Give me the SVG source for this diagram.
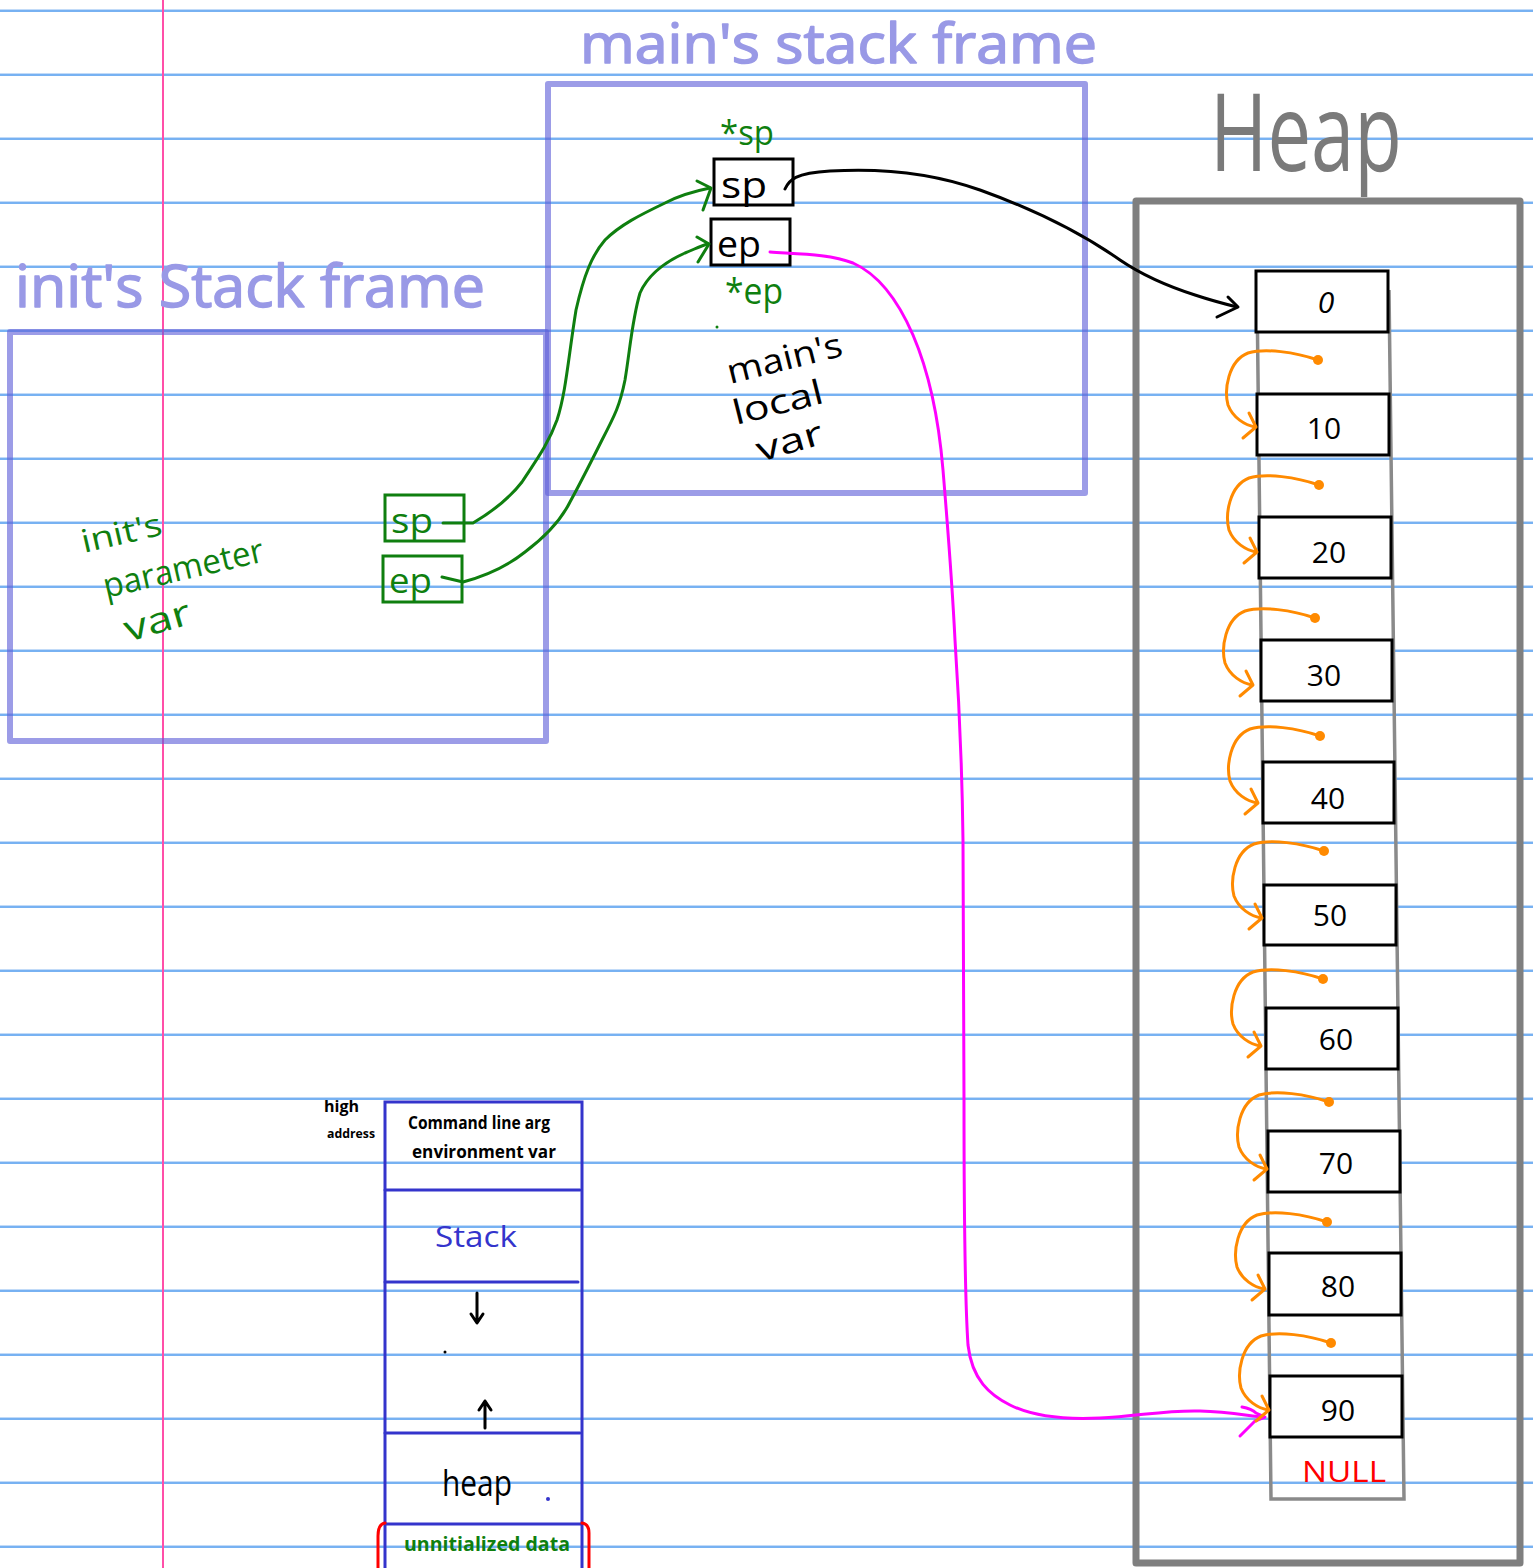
<svg xmlns="http://www.w3.org/2000/svg" xmlns:xlink="http://www.w3.org/1999/xlink" width="1533" height="1568" viewBox="0 0 1533 1568">
  <style>
    .rule { stroke: #4b98ee; stroke-width: 1.4; }
    .rule-hi { stroke: #bcd8f8; stroke-width: 1; }
    .frame { fill: none; stroke: #5f5fd8; stroke-opacity: 0.62; stroke-width: 6; stroke-linejoin: round; stroke-linecap: round; }
    .title { font-family: "Open Sans", "Liberation Sans", sans-serif; fill: #9999e6; stroke: #9999e6; stroke-width: 1.5; stroke-linejoin: round; }
    .hand { font-family: "Open Sans", "Liberation Sans", sans-serif; }
    .cell { fill: #ffffff; stroke: #000000; stroke-width: 3; }
    .val { font-family: "Open Sans", "Liberation Sans", sans-serif; font-size: 30px; fill: #000; text-anchor: middle; }
    .green-box { fill: none; stroke: #0f7f0f; stroke-width: 3; }
    .green-line { fill: none; stroke: #0f7f0f; stroke-width: 3; stroke-linecap: round; stroke-linejoin: round; }
    .black-line { fill: none; stroke: #000; stroke-width: 3; stroke-linecap: round; stroke-linejoin: round; }
    .pink-line { fill: none; stroke: #ff00ff; stroke-width: 3; stroke-linecap: round; stroke-linejoin: round; }
    .orange-line { fill: none; stroke: #ff8a00; stroke-width: 3; stroke-linecap: round; stroke-linejoin: round; }
    .mem { fill: none; stroke: #3434cc; stroke-width: 3; stroke-linecap: round; }
  </style>
  <defs>
    <!-- orange "next" link: dot at origin, hooks round to the left side of the next cell -->
    <g id="link">
      <circle cx="0" cy="0" r="5" fill="#ff8a00"/>
      <path class="orange-line" d="M0,0 C-23,-8 -53,-12 -70,-7 C-90,1 -94,30 -90,45 C-85,58 -73,65 -63,67"/>
      <path class="orange-line" d="M-69,53 L-62,67 L-75,78"/>
    </g>
  </defs>

  <rect width="1533" height="1568" fill="#ffffff"/>

  <!-- ruled paper -->
  <g id="paper">
    <g class="rule-hi">
      <line x1="0" y1="9.6" x2="1533" y2="9.6"/><line x1="0" y1="73.6" x2="1533" y2="73.6"/>
      <line x1="0" y1="137.6" x2="1533" y2="137.6"/><line x1="0" y1="201.6" x2="1533" y2="201.6"/>
      <line x1="0" y1="265.6" x2="1533" y2="265.6"/><line x1="0" y1="329.6" x2="1533" y2="329.6"/>
      <line x1="0" y1="393.6" x2="1533" y2="393.6"/><line x1="0" y1="457.6" x2="1533" y2="457.6"/>
      <line x1="0" y1="521.6" x2="1533" y2="521.6"/><line x1="0" y1="585.6" x2="1533" y2="585.6"/>
      <line x1="0" y1="649.6" x2="1533" y2="649.6"/><line x1="0" y1="713.6" x2="1533" y2="713.6"/>
      <line x1="0" y1="777.6" x2="1533" y2="777.6"/><line x1="0" y1="841.6" x2="1533" y2="841.6"/>
      <line x1="0" y1="905.6" x2="1533" y2="905.6"/><line x1="0" y1="969.6" x2="1533" y2="969.6"/>
      <line x1="0" y1="1033.6" x2="1533" y2="1033.6"/><line x1="0" y1="1097.6" x2="1533" y2="1097.6"/>
      <line x1="0" y1="1161.6" x2="1533" y2="1161.6"/><line x1="0" y1="1225.6" x2="1533" y2="1225.6"/>
      <line x1="0" y1="1289.6" x2="1533" y2="1289.6"/><line x1="0" y1="1353.6" x2="1533" y2="1353.6"/>
      <line x1="0" y1="1417.6" x2="1533" y2="1417.6"/><line x1="0" y1="1481.6" x2="1533" y2="1481.6"/>
      <line x1="0" y1="1545.6" x2="1533" y2="1545.6"/>
    </g>
    <g class="rule">
      <line x1="0" y1="11" x2="1533" y2="11"/><line x1="0" y1="75" x2="1533" y2="75"/>
      <line x1="0" y1="139" x2="1533" y2="139"/><line x1="0" y1="203" x2="1533" y2="203"/>
      <line x1="0" y1="267" x2="1533" y2="267"/><line x1="0" y1="331" x2="1533" y2="331"/>
      <line x1="0" y1="395" x2="1533" y2="395"/><line x1="0" y1="459" x2="1533" y2="459"/>
      <line x1="0" y1="523" x2="1533" y2="523"/><line x1="0" y1="587" x2="1533" y2="587"/>
      <line x1="0" y1="651" x2="1533" y2="651"/><line x1="0" y1="715" x2="1533" y2="715"/>
      <line x1="0" y1="779" x2="1533" y2="779"/><line x1="0" y1="843" x2="1533" y2="843"/>
      <line x1="0" y1="907" x2="1533" y2="907"/><line x1="0" y1="971" x2="1533" y2="971"/>
      <line x1="0" y1="1035" x2="1533" y2="1035"/><line x1="0" y1="1099" x2="1533" y2="1099"/>
      <line x1="0" y1="1163" x2="1533" y2="1163"/><line x1="0" y1="1227" x2="1533" y2="1227"/>
      <line x1="0" y1="1291" x2="1533" y2="1291"/><line x1="0" y1="1355" x2="1533" y2="1355"/>
      <line x1="0" y1="1419" x2="1533" y2="1419"/><line x1="0" y1="1483" x2="1533" y2="1483"/>
      <line x1="0" y1="1547" x2="1533" y2="1547"/>
    </g>
    <line x1="163" y1="0" x2="163" y2="1568" stroke="#ff4fa8" stroke-width="2"/>
  </g>

  <!-- main's stack frame -->
  <g id="main-frame">
    <text class="title" x="580" y="63" font-size="54" textLength="517" lengthAdjust="spacingAndGlyphs">main's stack frame</text>
    <rect class="frame" x="548" y="84" width="537" height="409"/>
    <text class="hand" x="720" y="145" font-size="34" fill="#0f7f0f" textLength="54" lengthAdjust="spacingAndGlyphs">*sp</text>
    <text class="hand" x="725" y="304" font-size="36" fill="#0f7f0f" textLength="58" lengthAdjust="spacingAndGlyphs">*ep</text>
    <circle cx="717" cy="327" r="1.5" fill="#0f7f0f"/>
    <text class="hand" font-size="34" fill="#000" transform="translate(730,384) rotate(-14)" textLength="118" lengthAdjust="spacingAndGlyphs">main's</text>
    <text class="hand" font-size="34" fill="#000" transform="translate(736,425) rotate(-14)" textLength="92" lengthAdjust="spacingAndGlyphs">local</text>
    <text class="hand" font-size="34" fill="#000" transform="translate(760,462) rotate(-16)" textLength="68" lengthAdjust="spacingAndGlyphs">var</text>
  </g>

  <g id="main-sp">
    <rect class="cell" x="714" y="159" width="79" height="46"/>
    <text class="hand" x="721" y="198" font-size="36" fill="#000" textLength="46" lengthAdjust="spacingAndGlyphs">sp</text>
  </g>
  <g id="main-ep">
    <rect class="cell" x="711" y="219" width="79" height="46"/>
    <text class="hand" x="717" y="257" font-size="36" fill="#000" textLength="44" lengthAdjust="spacingAndGlyphs">ep</text>
  </g>

  <!-- init's stack frame -->
  <g id="init-frame">
    <text class="title" x="15" y="307" font-size="58" textLength="470" lengthAdjust="spacingAndGlyphs">init's Stack frame</text>
    <rect class="frame" x="10" y="332" width="536" height="409"/>
    <text class="hand" font-size="32" fill="#0f7f0f" transform="translate(84,553) rotate(-13)" textLength="82" lengthAdjust="spacingAndGlyphs">init's</text>
    <text class="hand" font-size="34" fill="#0f7f0f" transform="translate(106,598) rotate(-13)" textLength="164" lengthAdjust="spacingAndGlyphs">parameter</text>
    <text class="hand" font-size="36" fill="#0f7f0f" transform="translate(128,642) rotate(-16)" textLength="68" lengthAdjust="spacingAndGlyphs">var</text>
  </g>

  <g id="init-sp">
    <rect class="green-box" x="385" y="495" width="79" height="46"/>
    <text class="hand" x="391" y="533" font-size="34" fill="#0f7f0f" textLength="42" lengthAdjust="spacingAndGlyphs">sp</text>
  </g>
  <g id="init-ep">
    <rect class="green-box" x="383" y="556" width="79" height="46"/>
    <text class="hand" x="389" y="593" font-size="34" fill="#0f7f0f" textLength="43" lengthAdjust="spacingAndGlyphs">ep</text>
  </g>

  <!-- heap -->
  <g id="heap">
    <text x="1210" y="171" font-family="Open Sans, Liberation Sans, sans-serif" font-size="108" fill="#7a7a7a" textLength="192" lengthAdjust="spacingAndGlyphs">Heap</text>
    <rect x="1136" y="201" width="384" height="1362" fill="none" stroke="#7f7f7f" stroke-width="7" stroke-linejoin="round"/>
    <path d="M1257,290 L1271,1499 L1404,1499 L1389,290" fill="none" stroke="#8a8a8a" stroke-width="3.5"/>
  </g>

  <g id="cell-0"><rect class="cell" x="1256" y="271" width="132" height="61"/><text class="val" x="1326" y="313" font-style="italic">0</text></g>
  <g id="cell-10"><rect class="cell" x="1257" y="394" width="132" height="61"/><text class="val" x="1324" y="439">10</text></g>
  <g id="cell-20"><rect class="cell" x="1259" y="517" width="132" height="61"/><text class="val" x="1329" y="563">20</text></g>
  <g id="cell-30"><rect class="cell" x="1261" y="640" width="131" height="61"/><text class="val" x="1324" y="686">30</text></g>
  <g id="cell-40"><rect class="cell" x="1263" y="762" width="131" height="61"/><text class="val" x="1328" y="809">40</text></g>
  <g id="cell-50"><rect class="cell" x="1264" y="885" width="132" height="60"/><text class="val" x="1330" y="926">50</text></g>
  <g id="cell-60"><rect class="cell" x="1266" y="1008" width="132" height="61"/><text class="val" x="1336" y="1050">60</text></g>
  <g id="cell-70"><rect class="cell" x="1268" y="1131" width="132" height="61"/><text class="val" x="1336" y="1174">70</text></g>
  <g id="cell-80"><rect class="cell" x="1269" y="1253" width="132" height="62"/><text class="val" x="1338" y="1297" font-size="34">80</text></g>
  <g id="cell-90"><rect class="cell" x="1270" y="1376" width="132" height="61"/><text class="val" x="1338" y="1421" font-size="36">90</text></g>
  <g id="null-label">
    <text x="1302" y="1482" font-family="Open Sans, Liberation Sans, sans-serif" font-size="30" fill="#ff0000" textLength="84" lengthAdjust="spacingAndGlyphs">NULL</text>
  </g>

  <!-- memory layout -->
  <g id="memory-layout">
    <path class="mem" d="M385,1568 L385,1102 L582,1102 L582,1568"/>
    <line class="mem" x1="385" y1="1190" x2="580" y2="1190"/>
    <line class="mem" x1="385" y1="1282" x2="578" y2="1282"/>
    <line class="mem" x1="385" y1="1433" x2="580" y2="1433"/>
    <line class="mem" x1="385" y1="1524" x2="582" y2="1524"/>
    <path d="M385,1523 Q378,1524 378,1536 L378,1570 M582,1523 Q589,1524 589,1533 L589,1570" fill="none" stroke="#ff0000" stroke-width="3" stroke-linecap="round"/>
    <text class="hand" x="324" y="1112" font-size="16" font-weight="bold" fill="#000" textLength="35" lengthAdjust="spacingAndGlyphs">high</text>
    <text class="hand" x="327" y="1138" font-size="13" font-weight="bold" fill="#000" textLength="48" lengthAdjust="spacingAndGlyphs">address</text>
    <text class="hand" x="408" y="1129" font-size="18" font-weight="bold" fill="#000" textLength="142" lengthAdjust="spacingAndGlyphs">Command line arg</text>
    <text class="hand" x="412" y="1158" font-size="18" font-weight="bold" fill="#000" textLength="144" lengthAdjust="spacingAndGlyphs">environment var</text>
    <text class="hand" x="435" y="1247" font-size="30" fill="#3434cc" textLength="82" lengthAdjust="spacingAndGlyphs">Stack</text>
    <path class="black-line" d="M477,1293 L477,1322 M471,1314 L477,1323 L483,1314"/>
    <circle cx="445" cy="1352" r="1.5" fill="#000"/>
    <path class="black-line" d="M485,1428 L485,1401 M479,1410 L485,1401 L491,1410"/>
    <text class="hand" x="442" y="1496" font-size="36" fill="#000" textLength="70" lengthAdjust="spacingAndGlyphs">heap</text>
    <circle cx="548" cy="1499" r="2" fill="#3434cc"/>
    <text class="hand" x="404" y="1551" font-size="19" font-weight="bold" fill="#0f7f0f" textLength="166" lengthAdjust="spacingAndGlyphs">unnitialized data</text>
  </g>

  <!-- connectors -->
  <g id="connectors">
    <!-- init sp -> main sp -->
    <path class="green-line" d="M443,523 L473,523 C495,510 512,495 522,482 C535,462 548,445 557,420 C566,392 568,360 576,310 C584,275 592,255 605,240 C620,225 640,215 665,203 C680,195 695,191 710,188"/>
    <path class="green-line" d="M697,181 L711,188 L703,210"/>
    <!-- init ep -> main ep -->
    <path class="green-line" d="M442,577 L463,582 C485,576 505,568 525,552 C545,537 560,522 570,502 C582,480 592,460 602,440 C615,415 620,405 625,380 C630,350 632,320 640,293 C648,275 665,262 685,253 C695,249 700,246 708,244"/>
    <path class="green-line" d="M697,237 L709,244 L698,262"/>
    <!-- main sp -> heap[0] -->
    <path class="black-line" d="M785,189 C789,180 795,173 830,171 C880,168 930,172 980,190 C1030,208 1080,232 1120,260 C1145,277 1170,287 1195,295 C1210,300 1225,304 1237,307"/>
    <path class="black-line" d="M1228,297 L1238,307 L1217,317"/>
    <!-- main ep -> heap[9] -->
    <path class="pink-line" d="M770,252 C800,254 830,254 853,263 C880,275 900,305 913,335 C928,370 938,410 943,470 C948,530 952,580 955,640 C959,700 962,760 963,840 L964,1100 C964,1200 965,1300 968,1345 C972,1380 990,1395 1010,1405 C1030,1415 1060,1420 1100,1418 C1140,1416 1165,1410 1200,1411 C1230,1412 1250,1416 1264,1417"/>
    <path class="pink-line" d="M1242,1407 C1248,1408 1253,1410 1256,1413 L1265,1417 L1255,1421 L1240,1436"/>
    <!-- next links between heap cells -->
    <use xlink:href="#link" x="1318" y="360"/>
    <use xlink:href="#link" x="1319" y="485"/>
    <use xlink:href="#link" x="1315" y="618"/>
    <use xlink:href="#link" x="1320" y="736"/>
    <use xlink:href="#link" x="1324" y="851"/>
    <use xlink:href="#link" x="1323" y="979"/>
    <use xlink:href="#link" x="1329" y="1102"/>
    <use xlink:href="#link" x="1327" y="1222"/>
    <use xlink:href="#link" x="1331" y="1343"/>
  </g>
</svg>
